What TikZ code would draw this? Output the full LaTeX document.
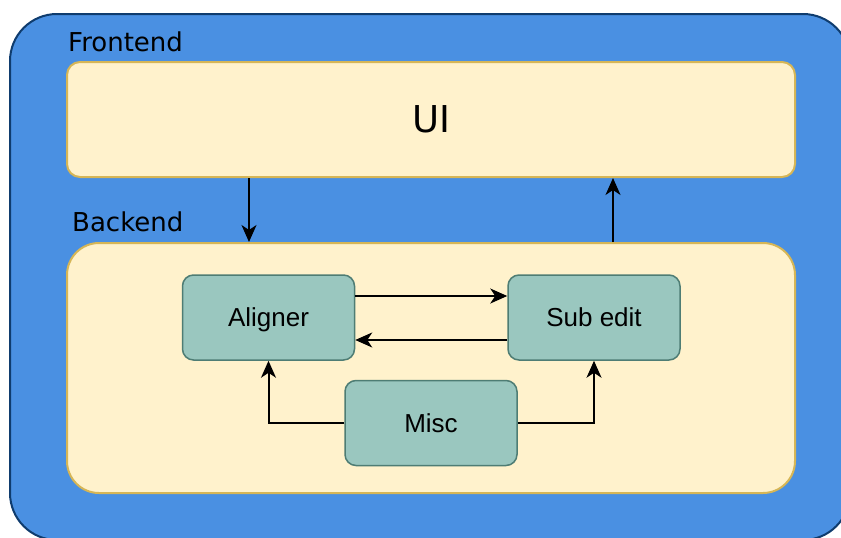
\documentclass[tikz,border=0pt]{standalone}
\usepackage{fontspec}
\setmainfont{Liberation Sans}
\newfontfamily\labelfont{DejaVu Sans}
\usetikzlibrary{arrows.meta}
\definecolor{outerfill}{HTML}{4A90E2}
\definecolor{outerline}{HTML}{0F3C6E}
\definecolor{panelfill}{HTML}{FFF2CC}
\definecolor{panelline}{HTML}{D6B656}
\definecolor{modfill}{HTML}{9AC7BF}
\definecolor{modline}{HTML}{4E7D74}
\tikzset{
  container/.style={draw=outerline, fill=outerfill, line width=2pt, rounded corners=47pt,
    minimum width=840pt, minimum height=526pt, inner sep=0pt},
  panel/.style={draw=panelline, fill=panelfill, line width=2pt,
    minimum width=728pt, inner sep=0pt},
  module/.style={draw=modline, fill=modfill, line width=1.5pt, rounded corners=11pt,
    minimum width=172pt, minimum height=85pt, inner sep=0pt,
    text height=18.6pt, text depth=0pt,
    font=\fontsize{26}{30}\selectfont},
  grouplabel/.style={anchor=west, inner sep=0pt, font=\labelfont\fontsize{26}{30}\selectfont},
  flow/.style={line width=2pt, -{Stealth[length=17pt, width=15pt, inset=5pt]}}
}
\begin{document}
\begin{tikzpicture}[x=1pt, y=-1pt]
\useasboundingbox (0,0) rectangle (841,538);
\clip (0,0) rectangle (841,538);

% outer application frame
\node[container] (app) at (430,277) {};

% frontend layer
\node[grouplabel] (frontendlbl) at (68,42) {Frontend};
\node[panel, rounded corners=13pt, minimum height=115pt,
      font=\labelfont\fontsize{37}{42}\selectfont] (ui) at (431,119.5) {UI};

% backend layer
\node[grouplabel] (backendlbl) at (72,222) {Backend};
\node[panel, rounded corners=32pt, minimum height=250pt] (backend) at (431,368) {};

% backend modules
\node[module] (aligner) at (268.5,317.5) {Aligner};
\node[module] (subedit) at (594,317.5) {Sub edit};
\node[module] (misc) at (431,423) {Misc};

% links between layers
\coordinate (down) at (249,0);
\coordinate (up) at (613,0);
\draw[flow] (ui.south -| down) -- (backend.north -| down);
\draw[flow] (backend.north -| up) -- (ui.south -| up);

% links between modules
\draw[flow] ([yshift=21.5pt]aligner.east) -- ([yshift=21.5pt]subedit.west);
\draw[flow] ([yshift=-22.5pt]subedit.west) -- ([yshift=-22.5pt]aligner.east);
\draw[flow] (misc.west) -| (aligner.south);
\draw[flow] (misc.east) -| (subedit.south);
\end{tikzpicture}
\end{document}
